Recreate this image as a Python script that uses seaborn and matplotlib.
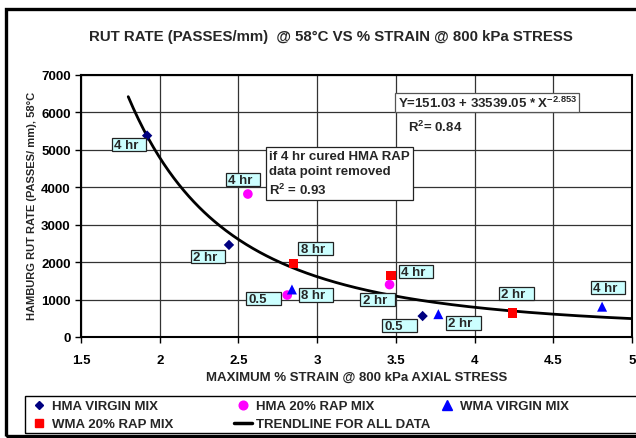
import numpy as np
import pandas as pd
import matplotlib
matplotlib.use("Agg")
import matplotlib.pyplot as plt
import seaborn as sns
from matplotlib.path import Path
from matplotlib.lines import Line2D
from matplotlib.patches import Rectangle

# ---------------- data ----------------
hma_virgin_x = [1.92, 2.44, 3.67]
hma_virgin_y = [5380, 2460, 560]
hma_virgin_lbl = ["4 hr", "2 hr", "0.5"]

hma_rap_x = [2.56, 2.81, 3.46]
hma_rap_y = [3820, 1120, 1400]
hma_rap_lbl = ["4 hr", "0.5", "2 hr"]

wma_virgin_x = [2.84, 3.77, 4.81]
wma_virgin_y = [1270, 610, 810]
wma_virgin_lbl = ["8 hr", "2 hr", "4 hr"]

wma_rap_x = [2.85, 3.47, 4.24]
wma_rap_y = [1960, 1640, 640]
wma_rap_lbl = ["8 hr", "4 hr", "2 hr"]

series_names = ["HMA VIRGIN MIX", "HMA 20% RAP MIX", "WMA VIRGIN MIX", "WMA 20% RAP MIX"]
trend_name = "TRENDLINE FOR ALL DATA"

# trendline as printed on the chart: Y = a + b * X^c
trend_a, trend_b, trend_c = 151.03, 33539.05, -2.853
trend_x_start, trend_x_end = 1.8, 5.0

x_ticks = [1.5, 2, 2.5, 3, 3.5, 4, 4.5, 5]
x_tick_labels = ["1.5", "2", "2.5", "3", "3.5", "4", "4.5", "5"]
y_ticks = [0, 1000, 2000, 3000, 4000, 5000, 6000, 7000]

title = "RUT RATE (PASSES/mm)  @ 58°C VS % STRAIN @ 800 kPa STRESS"
x_label = "MAXIMUM % STRAIN @ 800 kPa AXIAL STRESS"
y_label = "HAMBURG RUT RATE (PASSES/ mm), 58°C"
eq_text = "Y=151.03 + 33539.05 * X$^{-2.853}$"
r2_text = "R$^2$= 0.84"
note_text = "if 4 hr cured HMA RAP\ndata point removed\nR$^2$ = 0.93"

# ---------------- style ----------------
sns.set_style("white")
plt.rcParams["font.family"] = ["Liberation Sans", "DejaVu Sans"]
plt.rcParams["font.weight"] = "bold"
plt.rcParams["mathtext.fontset"] = "custom"
plt.rcParams["mathtext.rm"] = "Liberation Sans:bold"
plt.rcParams["mathtext.it"] = "Liberation Sans:bold"
plt.rcParams["mathtext.bf"] = "Liberation Sans:bold"
plt.rcParams["mathtext.sf"] = "Liberation Sans:bold"

FS = 9.5
W, H = 636, 439
fig = plt.figure(figsize=(W / 100, H / 100), dpi=100)
ax = fig.add_axes([81 / W, 1 - 338 / H, 551 / W, 262 / H])

styles = [
    dict(marker="D", color="#000080", s=28),
    dict(marker="o", color="#FF00FF", s=48),
    dict(marker="^", color="#0000FF", s=52),
    dict(marker="s", color="#FF0000", s=48),
]
all_x = [hma_virgin_x, hma_rap_x, wma_virgin_x, wma_rap_x]
all_y = [hma_virgin_y, hma_rap_y, wma_virgin_y, wma_rap_y]
all_lbl = [hma_virgin_lbl, hma_rap_lbl, wma_virgin_lbl, wma_rap_lbl]

# label offsets (pixels) of the text's left/centre from each point
label_offsets = [
    [(-33, -9), (-36, -12), (-38, -10)],
    [(-20, 14), (-39, -4), (-27, -15)],
    [(9, -6), (10, -9), (-9, 19)],
    [(7, 15), (10, 4), (-11, 19)],
]

# trendline
tx = np.linspace(trend_x_start, trend_x_end, 300)
ty = trend_a + trend_b * tx ** trend_c
sns.lineplot(x=tx, y=ty, color="black", linewidth=2.0, ax=ax, zorder=3)

for xs, ys, st, name in zip(all_x, all_y, styles, series_names):
    df = pd.DataFrame({"x": xs, "y": ys})
    sns.scatterplot(data=df, x="x", y="y", marker=st["marker"], color=st["color"],
                    s=st["s"], edgecolor="none", linewidth=0, ax=ax, zorder=4,
                    legend=False)


def label_box(x0, y0, width, height, mutation_size):
    pad_l = 0.17 * mutation_size
    bw = 2.62 * mutation_size
    xl = x0 - pad_l
    xr = xl + bw
    yb = y0 - 0.03 * mutation_size
    yt = y0 + height + 0.08 * mutation_size
    return Path([(xl, yb), (xr, yb), (xr, yt), (xl, yt), (xl, yb)], closed=True)


for xs, ys, lbls, offs in zip(all_x, all_y, all_lbl, label_offsets):
    for x, y, lb, (dx, dy) in zip(xs, ys, lbls, offs):
        ax.annotate(lb, xy=(x, y), xytext=(dx, dy), textcoords="offset pixels",
                    ha="left", va="center", fontsize=FS, fontweight="bold",
                    zorder=5,
                    bbox=dict(boxstyle=label_box, fc="#CCFFFF", ec="#222222", lw=0.9))

ax.set_xlim(1.5, 5)
ax.set_ylim(0, 7000)
ax.set_xticks(x_ticks)
ax.set_xticklabels(x_tick_labels)
ax.set_yticks(y_ticks)
ax.grid(True, color="#333333", linewidth=0.9)
ax.set_axisbelow(True)
for sp in ax.spines.values():
    sp.set_color("black")
    sp.set_linewidth(1.5)
ax.tick_params(direction="out", length=4, width=1, labelsize=FS, colors="black",
               bottom=True, left=True)
ax.tick_params(axis="x", pad=8)
ax.tick_params(axis="y", pad=3.5)
for t in ax.get_xticklabels() + ax.get_yticklabels():
    t.set_fontweight("bold")

ax.set_xlabel(x_label, fontsize=FS, fontweight="bold")
ax.set_ylabel(y_label, fontsize=8, fontweight="bold")
ax.xaxis.set_label_coords(0.5, -0.128)
ax.yaxis.set_label_coords(-0.08, 0.504)

# text boxes
ax.text(0.575, 0.895, eq_text, transform=ax.transAxes, ha="left", va="center",
        fontsize=FS, fontweight="bold", zorder=6,
        bbox=dict(boxstyle="square,pad=0.18", fc="white", ec="#555555", lw=0.9))
ax.text(0.593, 0.805, r2_text, transform=ax.transAxes, ha="left", va="center",
        fontsize=FS, fontweight="bold", zorder=6)
ax.text(0.341, 0.715, note_text, transform=ax.transAxes, ha="left", va="top",
        fontsize=FS, fontweight="bold", linespacing=1.38, zorder=6,
        bbox=dict(boxstyle="square,pad=0.22", fc="white", ec="#222222", lw=0.9))

fig.text(331 / W, 1 - 37 / H, title, ha="center", va="center",
         fontsize=10.8, fontweight="bold")

# legend (three columns inside one frame)
h = [Line2D([], [], ls="", marker=st["marker"], color=st["color"],
            markersize=np.sqrt(st["s"]) * (0.9 if st["marker"] != "D" else 0.85),
            label=name) for st, name in zip(styles, series_names)]
h_trend = Line2D([], [], color="black", lw=2.5, label=trend_name)
cols = [[h[0], h[3]], [h[1], h_trend], [h[2]]]
col_x = [30, 234, 438]
for hs, cx in zip(cols, col_x):
    fig.legend(handles=hs, loc="upper left", bbox_to_anchor=(cx / W, 1 - 401 / H),
               frameon=False, handlelength=1.36, handletextpad=0.3,
               borderpad=0, borderaxespad=0, labelspacing=0.45,
               prop={"weight": "bold", "size": FS})
fig.add_artist(Rectangle((25 / W, 1 - 434 / H), 1.0, 37 / H, transform=fig.transFigure,
                         fill=False, ec="black", lw=1, clip_on=False))
# outer chart border
fig.add_artist(Rectangle((6 / W, 1 - 437 / H), 1.05, 427 / H, transform=fig.transFigure,
                         fill=False, ec="black", lw=2.4, clip_on=False))

fig.savefig("out.png", dpi=100)
